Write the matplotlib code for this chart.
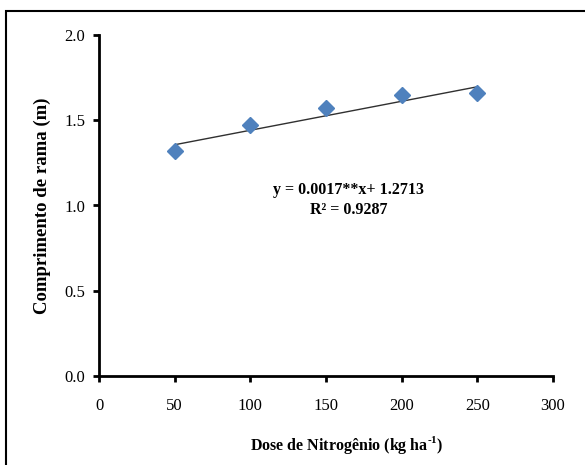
import numpy as np
import matplotlib.pyplot as plt
from matplotlib.patches import Rectangle

plt.rcParams['font.family'] = ['Liberation Serif', 'DejaVu Serif']
plt.rcParams['mathtext.fontset'] = 'custom'
plt.rcParams['mathtext.rm'] = 'Liberation Serif:bold'
plt.rcParams['mathtext.bf'] = 'Liberation Serif:bold'

# dose de nitrogenio (kg/ha) e comprimento de rama (m)
dose = [50, 100, 150, 200, 250]
comprimento = [1.32, 1.47, 1.57, 1.65, 1.66]
slope = 0.0017
intercept = 1.2713
x_ticks = [0, 50, 100, 150, 200, 250, 300]
y_ticks = [0.0, 0.5, 1.0, 1.5, 2.0]

fig = plt.figure(figsize=(5.85, 4.65), dpi=100)
ax = fig.add_axes([99 / 585, 1 - 376 / 465, 454 / 585, 341 / 465])

# linha de tendencia
xl = np.array([dose[0], dose[-1]])
ax.plot(xl, slope * xl + intercept, color='#303030', lw=1.0, zorder=2)
ax.plot(dose, comprimento, 'D', color='#4F81BD', ms=8, mec='#4F81BD', zorder=3,
        clip_on=False)

ax.set_xlim(0, 300)
ax.set_ylim(0, 2.0)
ax.set_xticks(x_ticks)
ax.set_yticks(y_ticks)
ax.set_yticklabels(['%.1f' % v for v in y_ticks])
ax.tick_params(direction='out', length=4, width=2, labelsize=12, pad=6)
ax.tick_params(axis='x', pad=12)
for s in ['top', 'right']:
    ax.spines[s].set_visible(False)
for s in ['left', 'bottom']:
    ax.spines[s].set_linewidth(2)

ax.set_xlabel('Dose de Nitrogênio (kg ha$^{\\text{-1}}$)', fontsize=11.5,
              fontweight='bold')
ax.xaxis.set_label_coords(0.545, -0.17)
ax.set_ylabel('Comprimento de rama (m)', fontsize=13.5, fontweight='bold')
ax.yaxis.set_label_coords(-0.105, 0.5)

ax.text(165, 1.09, 'y = 0.0017**x+ 1.2713', ha='center', va='center',
        fontsize=11.5, fontweight='bold')
ax.text(165, 0.975, 'R² = 0.9287', ha='center', va='center',
        fontsize=11.5, fontweight='bold')

# moldura externa
fig.patches.append(Rectangle((6 / 585, -0.1), 1.2, 1 - 11 / 465 + 0.1,
                             transform=fig.transFigure, fill=False,
                             edgecolor='black', lw=1.5))

plt.savefig('out.png', dpi=100)
